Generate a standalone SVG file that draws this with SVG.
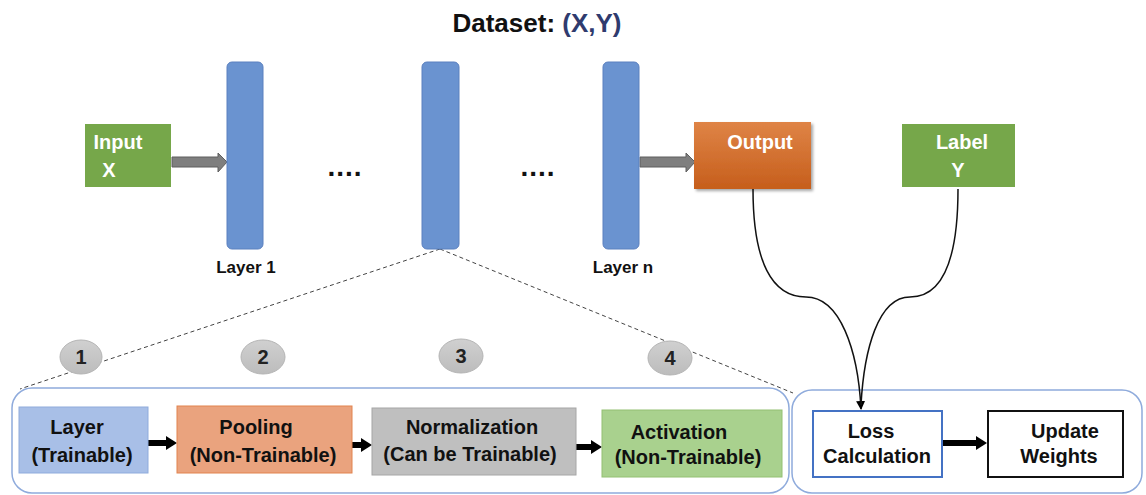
<svg xmlns="http://www.w3.org/2000/svg" width="1146" height="495" viewBox="0 0 1146 495">
<style>
text{font-family:"Liberation Sans",Arial,sans-serif;font-weight:bold;}
.t{font-size:20px;fill:#111;text-anchor:middle;}
.w{font-size:20px;fill:#fff;text-anchor:middle;}
.lbl{font-size:17px;fill:#111;text-anchor:middle;}
.bar{fill:#6a93d0;stroke:#5b80bf;stroke-width:1;}
.grn{fill:#76a74a;}
.cont{fill:none;stroke:#8fabdc;stroke-width:1.5;}
.dash{fill:none;stroke:#444;stroke-width:1;stroke-dasharray:4 3;}
.circ{fill:url(#cg);stroke:#b5b5b5;stroke-width:1;}
.num{font-size:20px;fill:#222;text-anchor:middle;}
.blk{stroke:#000;stroke-width:6;fill:none;}
.dots{font-size:28px;fill:#111;text-anchor:middle;letter-spacing:1px;}
</style>
<defs>
<linearGradient id="og" x1="0" y1="0" x2="0" y2="1">
<stop offset="0" stop-color="#df8446"/>
<stop offset="1" stop-color="#c65e1c"/>
</linearGradient>
<linearGradient id="cg" x1="0" y1="0" x2="0" y2="1">
<stop offset="0" stop-color="#d0d0d0"/>
<stop offset="1" stop-color="#bcbcbc"/>
</linearGradient>
<filter id="sh" x="-10%" y="-10%" width="130%" height="130%">
<feDropShadow dx="2" dy="2" stdDeviation="1.5" flood-color="#000" flood-opacity="0.35"/>
</filter>
<marker id="bh" markerWidth="11" markerHeight="14" refX="1" refY="7" orient="auto" markerUnits="userSpaceOnUse">
<path d="M0,0 L11,7 L0,14 Z" fill="#000"/>
</marker>
<marker id="ah" markerWidth="10" markerHeight="10" refX="8" refY="5" orient="auto" markerUnits="userSpaceOnUse">
<path d="M0,0.5 L9,5 L0,9.5 Z" fill="#000"/>
</marker>
</defs>

<text x="537" y="32" font-size="26" fill="#111" text-anchor="middle">Dataset: <tspan fill="#2f3b6e">(X,Y)</tspan></text>

<g id="containers">
<rect class="cont" x="12" y="388" width="777" height="105" rx="20"/>
<rect class="cont" x="792" y="390" width="350" height="103" rx="20"/>
</g>

<g id="connectors">
<path class="dash" d="M440,249 L20,389"/>
<path class="dash" d="M440,249 L793,393"/>
<path d="M172,157 H218 V153 L227,162 L218,172 V167 H172 Z" fill="#7f7f7f" stroke="#5e5e5e" stroke-width="1"/>
<path d="M640,157 H686 V153 L695,162 L686,172 V167 H640 Z" fill="#7f7f7f" stroke="#5e5e5e" stroke-width="1"/>
<path d="M753,189 C753,262 772,297 806,297 C840,297 858,350 861,409" fill="none" stroke="#111" stroke-width="1.5" marker-end="url(#ah)"/>
<path d="M958,189 C958,262 942,297 910,297 C878,297 864,350 861,405" fill="none" stroke="#111" stroke-width="1.5"/>
<line class="blk" x1="148" y1="443" x2="167" y2="443" marker-end="url(#bh)"/>
<line class="blk" x1="352" y1="445" x2="362" y2="445" marker-end="url(#bh)"/>
<line class="blk" x1="576" y1="447" x2="592" y2="447" marker-end="url(#bh)"/>
<line class="blk" x1="942" y1="443" x2="977" y2="443" marker-end="url(#bh)"/>
</g>

<g id="input">
<rect class="grn" x="85" y="124" width="86" height="63"/>
<text class="w" x="118" y="149">Input</text>
<text class="w" x="109" y="177">X</text>
</g>

<g id="layer1">
<rect class="bar" x="227" y="62" width="36" height="187" rx="5"/>
<text class="lbl" x="246" y="273">Layer 1</text>
</g>

<g id="dots1"><text class="dots" x="345" y="176">....</text></g>

<g id="layerMid">
<rect class="bar" x="422" y="62" width="37" height="187" rx="5"/>
</g>

<g id="dots2"><text class="dots" x="538" y="176">....</text></g>

<g id="layerN">
<rect class="bar" x="603" y="62" width="36" height="187" rx="5"/>
<text class="lbl" x="623" y="273">Layer n</text>
</g>

<g id="output">
<rect x="694" y="122" width="117" height="67" fill="url(#og)" filter="url(#sh)"/>
<text class="w" x="760" y="149">Output</text>
</g>

<g id="label">
<rect class="grn" x="902" y="124" width="113" height="63"/>
<text class="w" x="962" y="149">Label</text>
<text class="w" x="958" y="177">Y</text>
</g>

<g id="c1"><ellipse class="circ" cx="81" cy="357" rx="21" ry="17"/><text class="num" x="81" y="364">1</text></g>
<g id="c2"><ellipse class="circ" cx="263" cy="357" rx="22" ry="17"/><text class="num" x="263" y="364">2</text></g>
<g id="c3"><ellipse class="circ" cx="461" cy="356" rx="22" ry="17"/><text class="num" x="461" y="363">3</text></g>
<g id="c4"><ellipse class="circ" cx="670" cy="358" rx="22" ry="17"/><text class="num" x="670" y="365">4</text></g>

<g id="layerT">
<rect x="19" y="407" width="129" height="66" fill="#a8bfe7" stroke="#8fabdc" stroke-width="1"/>
<text class="t" x="77" y="434">Layer</text>
<text class="t" x="82" y="462">(Trainable)</text>
</g>

<g id="pooling">
<rect x="177" y="406" width="175" height="67" fill="#eaa37e" stroke="#e2834f" stroke-width="1"/>
<text class="t" x="256" y="434">Pooling</text>
<text class="t" x="263" y="462">(Non-Trainable)</text>
</g>

<g id="norm">
<rect x="372" y="408" width="204" height="67" fill="#bfbfbf" stroke="#a6a6a6" stroke-width="1"/>
<text class="t" x="472" y="434">Normalization</text>
<text class="t" x="470" y="461">(Can be Trainable)</text>
</g>

<g id="activation">
<rect x="602" y="410" width="180" height="67" fill="#a9d18e" stroke="#93c072" stroke-width="1"/>
<text class="t" x="679" y="439">Activation</text>
<text class="t" x="688" y="464">(Non-Trainable)</text>
</g>

<g id="loss">
<rect x="813" y="411" width="129" height="66" fill="#fff" stroke="#4472c4" stroke-width="2"/>
<text class="t" x="871" y="438">Loss</text>
<text class="t" x="877" y="463">Calculation</text>
</g>

<g id="update">
<rect x="988" y="411" width="135" height="66" fill="#fff" stroke="#111" stroke-width="2"/>
<text class="t" x="1065" y="438">Update</text>
<text class="t" x="1059" y="463">Weights</text>
</g>
</svg>
